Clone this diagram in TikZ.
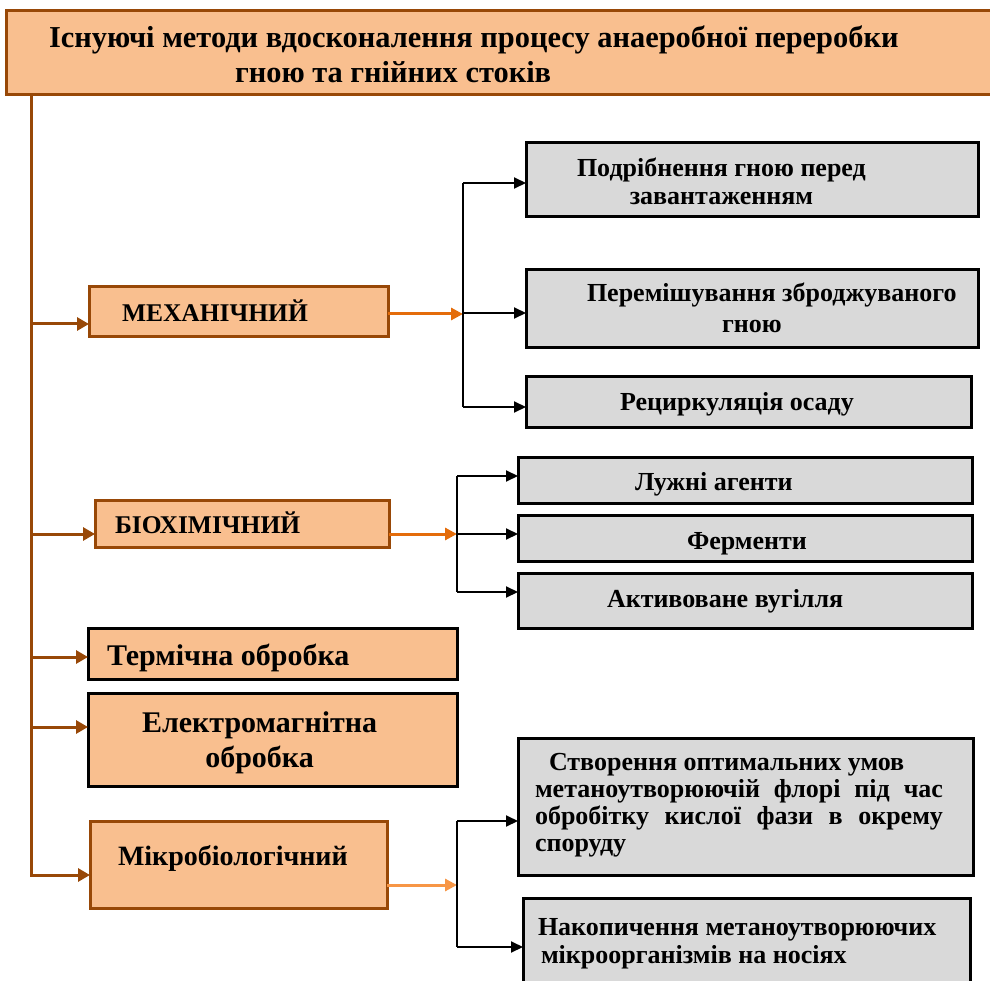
\documentclass[tikz,border=0pt]{standalone}
\usepackage{fontspec}
\setmainfont{Liberation Serif}
\usetikzlibrary{arrows.meta}
\definecolor{peach}{HTML}{F9BF8F}
\definecolor{brownb}{HTML}{984807}
\definecolor{orangea}{HTML}{E46C0A}
\definecolor{orangeb}{HTML}{F79646}
\definecolor{greyf}{HTML}{D9D9D9}
\newcommand{\bx}[4]{\makebox[#1pt][l]{\hspace*{#2pt}\raisebox{#3pt}[0pt][0pt]{#4}}}
\newcommand{\fs}[2]{\fontsize{#1}{#2}\selectfont}
\tikzset{
  basebox/.style={line width=3pt, inner sep=0pt, outer sep=0pt, anchor=north west, font=\bfseries},
  obox/.style={basebox, draw=brownb, fill=peach},
  kbox/.style={basebox, draw=black, fill=peach},
  gbox/.style={basebox, draw=black, fill=greyf},
  trunk/.style={draw=brownb, line width=3pt},
  brarr/.style={trunk, -{Triangle[length=12pt,width=13pt]}},
  oarr/.style={draw=orangea, line width=3pt, -{Triangle[length=12pt,width=12pt]}},
  oarrb/.style={draw=orangeb, line width=3pt, -{Triangle[length=12pt,width=12pt]}},
  bline/.style={draw=black, line width=1.5pt},
  barr/.style={draw=black, line width=2pt, -{Triangle[length=12pt,width=11pt]}}
}
\begin{document}
\begin{tikzpicture}[x=1pt,y=-1pt]
\useasboundingbox (0,0) rectangle (990,981);
% title
\node[obox, minimum width=990pt, minimum height=84pt] (title) at (6,11)
  {\bx{990}{43}{5}{\fs{30.4}{35}\begin{tabular}[t]{@{}l@{}}Існуючі методи вдосконалення процесу анаеробної переробки\\\hspace*{186pt}гною та гнійних стоків\end{tabular}}};
% left column
\node[obox, minimum width=299pt, minimum height=50pt] (mech) at (89,287)
  {\bx{299}{33}{-10}{\fs{25.5}{28}МЕХАНІЧНИЙ}};
\node[obox, minimum width=294pt, minimum height=47pt] (bio) at (95,500)
  {\bx{294}{20}{-9.5}{\fs{25.5}{28}БІОХІМІЧНИЙ}};
\node[kbox, minimum width=369pt, minimum height=51pt] (therm) at (88,628)
  {\bx{369}{19}{-11.5}{\fs{30}{35}Термічна обробка}};
\node[kbox, minimum width=369pt, minimum height=93pt] (em) at (88,693)
  {\bx{369}{54}{7.5}{\fs{30}{35}\begin{tabular}[t]{@{}c@{}}Електромагнітна\\обробка\end{tabular}}};
\node[obox, minimum width=297pt, minimum height=87pt] (micro) at (90,821)
  {\bx{297}{28}{-0.5}{\fs{28}{33}Мікробіологічний}};
% right column
\node[gbox, minimum width=452pt, minimum height=74pt] (m1) at (526,143)
  {\bx{452}{51}{3}{\fs{26}{28}\begin{tabular}[t]{@{}c@{}}Подрібнення гною перед\\завантаженням\end{tabular}}};
\node[gbox, minimum width=452pt, minimum height=78pt] (m2) at (526,270)
  {\bx{452}{61}{7}{\fs{26}{31}\begin{tabular}[t]{@{}l@{}}Перемішування зброджуваного\\\hspace*{135pt}гною\end{tabular}}};
\node[gbox, minimum width=445pt, minimum height=51pt] (m3) at (526,376)
  {\bx{445}{94}{-8.5}{\fs{26}{28}Рециркуляція осаду}};
\node[gbox, minimum width=454pt, minimum height=46pt] (b1) at (518,457)
  {\bx{454}{117}{-10}{\fs{26}{28}Лужні агенти}};
\node[gbox, minimum width=454pt, minimum height=46pt] (b2) at (518,515)
  {\bx{454}{169}{-11}{\fs{26}{28}Ферменти}};
\node[gbox, minimum width=454pt, minimum height=55pt] (b3) at (518,573)
  {\bx{454}{89}{-6.5}{\fs{26}{28}Активоване вугілля}};
\node[gbox, minimum width=455pt, minimum height=137pt] (c1) at (518,738)
  {\bx{455}{17}{36.5}{\fs{26}{27.3}\begin{tabular}[t]{@{}l@{}}\hspace*{14pt}Створення оптимальних умов\\\makebox[408pt][s]{метаноутворюючій флорі під час}\\\makebox[408pt][s]{обробітку кислої фази в окрему}\\споруду\end{tabular}}};
\node[gbox, minimum width=447pt, minimum height=92pt] (c2) at (523,898)
  {\bx{447}{15}{9}{\fs{26}{28}\begin{tabular}[t]{@{}l@{}}Накопичення метаноутворюючих\\\hspace*{3pt}мікроорганізмів на носіях\end{tabular}}};
% trunk and branches
\coordinate (tk) at (31,0);
\draw[brarr] (title.south -| tk) |- ([yshift=-10.5pt]micro.west);
\draw[brarr] ([yshift=-12pt]mech.west -| tk) -- ([yshift=-12pt]mech.west);
\draw[brarr] ([yshift=-10.5pt]bio.west -| tk) -- ([yshift=-10.5pt]bio.west);
\draw[brarr] ([yshift=-3.5pt]therm.west -| tk) -- ([yshift=-3.5pt]therm.west);
\draw[brarr] ([yshift=12.5pt]em.west -| tk) -- ([yshift=12.5pt]em.west);
% bracket 1
\coordinate (j1) at (463,0);
\draw[oarr] ([yshift=-2pt]mech.east) -- ([yshift=-2pt]mech.east -| j1);
\draw[bline] ([yshift=-3pt]m1.west -| j1) -- ([yshift=-5.5pt]m3.west -| j1);
\draw[barr] ([yshift=-3pt]m1.west -| j1) -- ([yshift=-3pt]m1.west);
\draw[barr] ([yshift=-4pt]m2.west -| j1) -- ([yshift=-4pt]m2.west);
\draw[barr] ([yshift=-5.5pt]m3.west -| j1) -- ([yshift=-5.5pt]m3.west);
% bracket 2
\coordinate (j2) at (457,0);
\draw[oarr] ([yshift=-10.5pt]bio.east) -- ([yshift=-10.5pt]bio.east -| j2);
\draw[bline] ([yshift=4pt]b1.west -| j2) -- ([yshift=8.5pt]b3.west -| j2);
\draw[barr] ([yshift=4pt]b1.west -| j2) -- ([yshift=4pt]b1.west);
\draw[barr] ([yshift=4pt]b2.west -| j2) -- ([yshift=4pt]b2.west);
\draw[barr] ([yshift=8.5pt]b3.west -| j2) -- ([yshift=8.5pt]b3.west);
% bracket 3
\coordinate (j3) at (457,0);
\draw[oarrb] ([yshift=-20.5pt]micro.east) -- ([yshift=-20.5pt]micro.east -| j3);
\draw[bline] ([yshift=-14.5pt]c1.west -| j3) -- ([yshift=-3pt]c2.west -| j3);
\draw[barr] ([yshift=-14.5pt]c1.west -| j3) -- ([yshift=-14.5pt]c1.west);
\draw[barr] ([yshift=-3pt]c2.west -| j3) -- ([yshift=-3pt]c2.west);
\end{tikzpicture}
\end{document}
